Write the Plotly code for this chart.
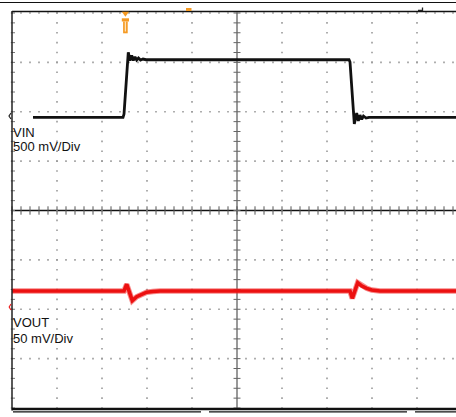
import plotly.graph_objects as go
import numpy as np

# ---------------- data ----------------
# time axis in screen divisions (time/div not shown on the capture)
VIN_T = [0.467, 2.467, 2.489, 2.584, 2.622, 2.660, 2.696, 2.733, 2.771, 2.811,
         2.856, 2.911, 2.978, 7.489, 7.511, 7.607, 7.660, 7.696, 7.733, 7.771,
         7.811, 7.867, 7.933, 9.867]
VIN_V = [3.000, 3.000, 3.033, 3.658, 3.575, 3.626, 3.575, 3.611, 3.580, 3.600,
         3.580, 3.590, 3.583, 3.585, 3.560, 2.932, 3.044, 2.963, 3.023, 2.978,
         3.013, 2.993, 3.000, 3.000]

VOUT_T = [0.0, 2.489, 2.549, 2.673, 2.771, 2.882, 2.993, 3.133, 3.289, 7.511,
          7.562, 7.682, 7.771, 7.882, 7.993, 8.178, 9.867]
VOUT_MV = [16.2, 16.2, 23.0, 6.4, 10.4, 13.2, 15.0, 15.7, 16.2, 16.2,
           8.8, 24.6, 21.3, 18.9, 17.2, 16.2, 16.2]

CH1_LABEL = ["VIN", "500 mV/Div"]
CH2_LABEL = ["VOUT", "50 mV/Div"]
CH1_SCALE_V = 0.5      # V/div
CH1_OFFSET_V = 3.0     # V at channel marker
CH2_SCALE_MV = 50.0    # mV/div
TRIG_T = 2.52          # trigger position (div)

# ---------------- screen geometry ----------------
W, H = 456, 417
ML, MT, MB = 12, 13, 9
PW = W - ML
PH = H - MT - MB
XDIV = 45.0
YDIV = PH / 8.0
XMAX = PW / XDIV
CH1_POS = (408 - 117.3) / YDIV
CH2_POS = (408 - 307.0) / YDIV


def px(x):
    return (x - ML) / PW


def py(y):
    return (MT + PH - y) / PH


vin_div = [CH1_POS + (v - CH1_OFFSET_V) / CH1_SCALE_V for v in VIN_V]
vout_div = [CH2_POS + v / CH2_SCALE_MV for v in VOUT_MV]

fig = go.Figure()

# grid dots
gx, gy = [], []
for r in [1, 2, 3, 5, 6, 7, 8]:
    for m in range(0, int(XMAX * 5) + 1):
        gx.append(m / 5)
        gy.append(r)
for c in [1, 2, 3, 4, 6, 7, 8, 9]:
    for n in range(0, 41):
        gx.append(c)
        gy.append(n / 5)
fig.add_trace(go.Scatter(x=gx, y=gy, mode="markers", hoverinfo="skip",
                         marker=dict(symbol="square", size=1.6, color="#9a9a9a",
                                     line=dict(width=0)), cliponaxis=False))

# ticks on centre lines and left border
tx = [m / 5 for m in range(0, int(XMAX * 5) + 1)]
fig.add_trace(go.Scatter(x=tx, y=[4] * len(tx), mode="markers", hoverinfo="skip",
                         marker=dict(symbol="line-ns", size=6, color="#555",
                                     line=dict(width=1, color="#555")), cliponaxis=False))
ty = [n / 5 for n in range(0, 41)]
fig.add_trace(go.Scatter(x=[5] * len(ty), y=ty, mode="markers", hoverinfo="skip",
                         marker=dict(symbol="line-ew", size=5, color="#666",
                                     line=dict(width=1, color="#666")), cliponaxis=False))
fig.add_trace(go.Scatter(x=[0.02] * len(ty), y=ty, mode="markers", hoverinfo="skip",
                         marker=dict(symbol="line-ew", size=3, color="#777",
                                     line=dict(width=1, color="#777")), cliponaxis=False))

# VIN
fig.add_trace(go.Scatter(x=VIN_T, y=vin_div, mode="lines", hoverinfo="skip",
                         line=dict(color="#111111", width=2.8)))
# VOUT (noise band + core)
fig.add_trace(go.Scatter(x=VOUT_T, y=vout_div, mode="lines", hoverinfo="skip",
                         line=dict(color="rgba(240,40,40,0.55)", width=5.5)))
fig.add_trace(go.Scatter(x=VOUT_T, y=vout_div, mode="lines", hoverinfo="skip",
                         line=dict(color="#ec1010", width=3.6)))

shapes = []
# centre lines
shapes.append(dict(type="line", xref="x", yref="y", x0=0, x1=XMAX, y0=4, y1=4,
                   line=dict(color="#111", width=1.5), layer="below"))
shapes.append(dict(type="line", xref="x", yref="y", x0=5, x1=5, y0=0, y1=8,
                   line=dict(color="#555", width=1.2), layer="below"))
# frame
shapes.append(dict(type="line", xref="paper", yref="paper", x0=px(0), x1=px(W),
                   y0=py(2.5), y1=py(2.5), line=dict(color="#111", width=1.2)))
shapes.append(dict(type="line", xref="paper", yref="paper", x0=px(12), x1=px(W),
                   y0=py(11.5), y1=py(11.5), line=dict(color="#111", width=1.6)))
shapes.append(dict(type="line", xref="paper", yref="paper", x0=px(12), x1=px(12),
                   y0=py(11), y1=py(410.5), line=dict(color="#222", width=1.5)))
shapes.append(dict(type="line", xref="paper", yref="paper", x0=px(12), x1=px(W),
                   y0=py(409), y1=py(409), line=dict(color="#111", width=2.5)))
for a, b in [(13, 201), (209, 407), (415, W)]:
    shapes.append(dict(type="line", xref="paper", yref="paper", x0=px(a), x1=px(b),
                       y0=py(411.8), y1=py(411.8), line=dict(color="#111", width=1.2)))
# trigger marker (orange T)
tp = ML + TRIG_T * XDIV
orange = "#f59a23"
shapes.append(dict(type="path", xref="paper", yref="paper",
                   path=f"M{px(tp-3.6)},{py(11.7)} L{px(tp+3.6)},{py(11.7)} L{px(tp)},{py(16.8)} Z",
                   fillcolor=orange, line=dict(width=0)))
shapes.append(dict(type="rect", xref="paper", yref="paper", x0=px(tp - 3.6), x1=px(tp + 3.6),
                   y0=py(18.3), y1=py(21.5), fillcolor=orange, line=dict(width=0)))
shapes.append(dict(type="rect", xref="paper", yref="paper", x0=px(tp - 2.3), x1=px(tp + 2.3),
                   y0=py(21.5), y1=py(33.3), fillcolor=orange, line=dict(width=0)))
shapes.append(dict(type="line", xref="paper", yref="paper", x0=px(tp), x1=px(tp),
                   y0=py(21.5), y1=py(31.5), line=dict(color="#ffe2b8", width=1.3)))
# small top markers
shapes.append(dict(type="rect", xref="paper", yref="paper", x0=px(186), x1=px(191.5),
                   y0=py(8), y1=py(11), fillcolor=orange, line=dict(width=0)))
shapes.append(dict(type="path", xref="paper", yref="paper",
                   path=f"M{px(418)},{py(10.5)} L{px(422.5)},{py(10.5)} L{px(422.5)},{py(7.5)}",
                   line=dict(color="#222", width=1.3)))
# channel markers on left edge
shapes.append(dict(type="path", xref="paper", yref="paper",
                   path=f"M{px(11)},{py(113)} L{px(9)},{py(116)} L{px(11)},{py(119)}",
                   line=dict(color="#222", width=1.2)))
shapes.append(dict(type="path", xref="paper", yref="paper",
                   path=f"M{px(11)},{py(304)} L{px(9.2)},{py(307)} L{px(11)},{py(310)}",
                   line=dict(color="#e22", width=1.2)))

font = dict(family="Liberation Sans, Arial, sans-serif", size=13, color="#111111")
ann = []
for txt, ypix in [(CH1_LABEL[0], 132.0), (CH1_LABEL[1], 146.7),
                  (CH2_LABEL[0], 322.7), (CH2_LABEL[1], 338.3)]:
    ann.append(dict(text=txt, xref="paper", yref="paper", x=0, y=py(ypix),
                    xanchor="left", yanchor="middle", showarrow=False, xshift=-1.5,
                    font=font))

fig.update_layout(
    width=W, height=H, autosize=False,
    margin=dict(l=ML, r=0, t=MT, b=MB, pad=0),
    paper_bgcolor="white", plot_bgcolor="white",
    showlegend=False,
    xaxis=dict(range=[0, XMAX], visible=False, fixedrange=True),
    yaxis=dict(range=[0, 8], visible=False, fixedrange=True),
    shapes=shapes, annotations=ann,
)

fig.write_html("out.html", config={"displayModeBar": False},
               post_script="document.body.style.margin='0';document.body.style.overflow='hidden';")
